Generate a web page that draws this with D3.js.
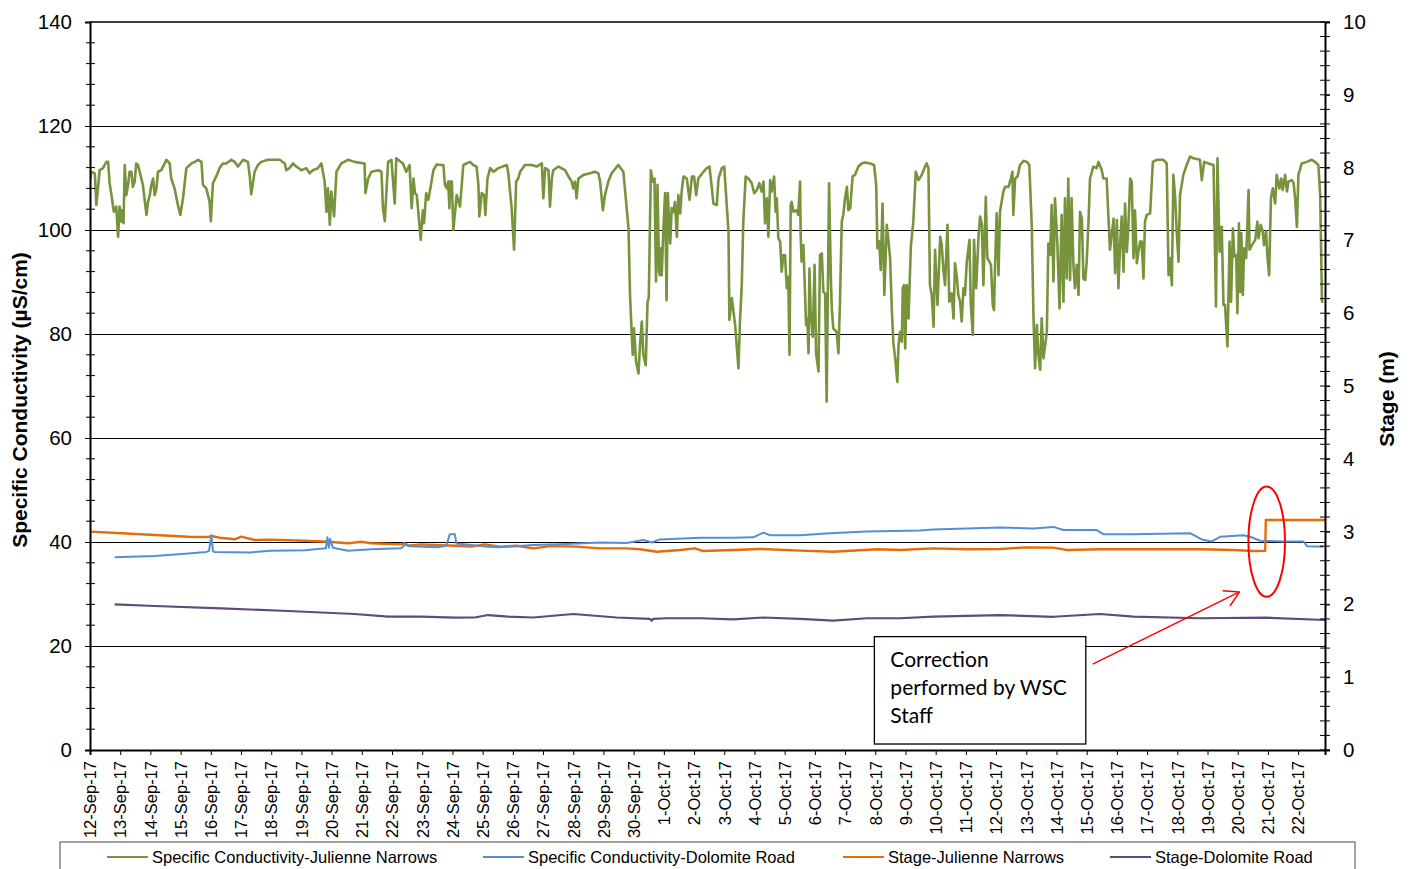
<!DOCTYPE html>
<html><head><meta charset="utf-8">
<script src="https://cdn.jsdelivr.net/npm/d3@7"></script>
<style>
html,body{margin:0;padding:0;background:#fff;}
svg{display:block;font-family:"Liberation Sans",Arial,sans-serif;}
</style></head>
<body>
<svg id="chart" width="1413" height="869"></svg>
<script>
// ---------- DATA (day offset from 12-Sep-2017 00:00, value) ----------
const startDate = new Date(2017, 8, 12);
const endDayOffset = 40.89;
const seriesNames = ["Specific Conductivity-Julienne Narrows","Specific Conductivity-Dolomite Road","Stage-Julienne Narrows","Stage-Dolomite Road"];
const leftTicks = [0,20,40,60,80,100,120,140];
const rightTicks = [0,1,2,3,4,5,6,7,8,9,10];

const condJulienne = [[0.01,109.9],[0.04,111.2],[0.16,110.9],[0.21,104.8],[0.32,111.5],[0.43,111.9],[0.54,113.1],[0.60,113.1],[0.65,109.0],[0.71,106.7],[0.79,103.5],[0.87,104.5],[0.93,98.7],[0.98,104.5],[1.04,101.6],[1.07,103.8],[1.11,101.3],[1.15,112.5],[1.20,106.7],[1.26,108.7],[1.31,111.2],[1.37,111.2],[1.42,108.3],[1.48,109.3],[1.53,112.8],[1.59,112.5],[1.70,109.9],[1.75,108.7],[1.87,102.9],[1.92,105.4],[1.98,106.7],[2.03,108.7],[2.09,109.9],[2.14,106.7],[2.20,108.0],[2.25,111.2],[2.36,111.5],[2.53,113.5],[2.64,112.8],[2.69,109.9],[2.80,108.0],[2.91,104.8],[2.99,102.9],[3.08,106.1],[3.19,111.9],[3.25,112.2],[3.36,112.8],[3.47,113.1],[3.58,113.5],[3.69,113.1],[3.74,108.7],[3.85,108.0],[3.96,105.4],[4.00,101.7],[4.07,109.0],[4.18,110.3],[4.29,111.9],[4.40,112.8],[4.51,112.8],[4.68,113.5],[4.79,113.1],[4.90,112.2],[5.07,113.5],[5.23,113.1],[5.29,110.3],[5.34,106.9],[5.45,111.2],[5.56,112.5],[5.67,113.1],[5.89,113.5],[6.11,113.5],[6.28,113.5],[6.45,112.8],[6.50,111.5],[6.61,111.9],[6.72,112.8],[6.83,112.2],[7.00,111.5],[7.16,111.9],[7.27,110.9],[7.38,111.5],[7.55,111.9],[7.66,112.8],[7.77,109.3],[7.83,103.5],[7.88,108.0],[7.94,101.0],[7.99,107.4],[8.08,102.6],[8.16,111.2],[8.32,112.8],[8.54,113.5],[8.76,113.1],[9.09,112.8],[9.12,107.1],[9.21,109.9],[9.32,111.2],[9.54,111.5],[9.65,111.2],[9.70,104.2],[9.76,101.7],[9.87,113.1],[9.98,113.5],[10.09,105.1],[10.14,113.8],[10.20,113.5],[10.36,112.8],[10.47,111.2],[10.58,112.5],
[10.65,104.2],[10.71,109.9],[10.76,107.1],[10.82,106.7],[10.87,103.5],[10.95,98.1],[11.02,103.8],[11.06,101.3],[11.13,107.1],[11.20,105.8],[11.26,107.7],[11.37,111.5],[11.48,112.6],[11.64,112.5],[11.70,112.5],[11.75,108.7],[11.81,108.0],[11.86,109.3],[11.90,104.2],[11.92,109.3],[11.98,109.3],[12.03,100.0],[12.14,106.7],[12.25,104.5],[12.36,112.5],[12.47,112.8],[12.58,113.1],[12.69,112.5],[12.80,112.2],[12.86,108.7],[12.89,102.6],[12.97,107.1],[13.05,106.7],[13.09,102.9],[13.16,109.9],[13.25,111.9],[13.36,111.2],[13.52,111.9],[13.80,112.5],[13.85,110.9],[13.96,104.2],[14.04,96.2],[14.11,109.3],[14.18,109.9],[14.24,111.2],[14.40,112.5],[14.63,112.5],[14.79,112.2],[14.96,112.8],[15.01,106.1],[15.07,111.9],[15.18,111.5],[15.23,104.5],[15.29,109.9],[15.34,111.5],[15.51,112.2],[15.73,111.5],[15.84,110.3],[15.95,109.3],[16.00,108.0],[16.06,109.3],[16.11,106.1],[16.17,109.9],[16.34,110.6],[16.56,110.9],[16.72,111.2],[16.83,110.9],[16.89,109.3],[16.98,103.8],[17.05,106.7],[17.16,109.3],[17.27,110.9],[17.49,112.5],[17.66,111.2],[17.83,100.3],[17.88,87.5],[17.94,79.5],[17.97,76.0],[18.01,81.1],[18.08,74.7],[18.16,72.4],[18.21,77.9],[18.27,82.4],[18.32,76.0],[18.40,74.0],[18.46,86.2],[18.50,86.9],[18.57,111.5],[18.63,109.3],[18.69,109.9],[18.74,90.1],[18.79,108.7],[18.84,92.0],[18.87,91.3],[18.90,96.5],[18.93,91.3],[18.98,99.7],[19.04,107.1],[19.09,86.5],[19.13,107.1],[19.21,97.4],[19.26,104.2],[19.32,103.5],[19.37,105.4],[19.43,98.7],[19.48,106.7],[19.54,103.2],[19.59,107.4],[19.65,110.3],[19.76,109.9],[19.85,105.8],[19.93,110.3],[20.00,110.3],[20.07,106.7],[20.14,109.9],[20.31,111.2],[20.42,111.9],[20.51,112.2],[20.59,108.0],[20.64,105.1],[20.75,104.8],[20.81,109.9],[20.92,111.9],[21.00,112.2],[21.06,106.7],[21.14,99.7],[21.17,82.7],[21.25,86.9],[21.36,81.7],[21.47,73.4],[21.52,82.4],
[21.58,89.4],[21.63,101.6],[21.71,110.3],[21.80,109.9],[21.91,109.0],[21.99,107.1],[22.08,107.7],[22.16,109.0],[22.24,107.4],[22.30,109.3],[22.35,101.3],[22.41,106.1],[22.46,98.7],[22.52,109.6],[22.57,107.4],[22.65,110.3],[22.70,103.5],[22.74,106.1],[22.79,98.4],[22.85,97.8],[22.90,92.0],[22.96,95.2],[23.01,95.2],[23.07,88.8],[23.12,91.0],[23.16,76.0],[23.20,104.8],[23.23,105.4],[23.29,103.5],[23.40,103.8],[23.45,102.9],[23.51,109.3],[23.53,99.0],[23.56,93.9],[23.62,97.1],[23.71,81.7],[23.75,83.0],[23.79,76.3],[23.82,92.6],[23.86,84.3],[23.93,79.5],[23.99,93.3],[24.04,76.3],[24.12,72.8],[24.17,95.2],[24.23,95.5],[24.28,88.1],[24.34,87.8],[24.39,67.0],[24.47,109.0],[24.53,90.7],[24.56,84.9],[24.61,81.1],[24.72,80.4],[24.78,76.3],[24.83,85.9],[24.89,101.6],[24.94,102.9],[25.00,106.1],[25.06,108.3],[25.11,103.8],[25.17,104.2],[25.25,110.3],[25.33,110.6],[25.44,112.2],[25.55,112.8],[25.66,113.0],[25.83,112.8],[25.96,112.5],[26.03,108.7],[26.07,96.5],[26.13,97.8],[26.18,92.3],[26.24,105.1],[26.30,87.5],[26.38,101.0],[26.43,98.4],[26.49,94.6],[26.55,84.3],[26.60,78.2],[26.66,75.3],[26.73,70.8],[26.77,77.9],[26.82,80.4],[26.88,78.5],[26.91,88.8],[26.95,89.4],[26.99,77.2],[27.04,89.4],[27.10,83.0],[27.18,97.1],[27.26,101.6],[27.34,111.2],[27.43,109.6],[27.54,110.6],[27.65,112.2],[27.70,112.8],[27.76,111.9],[27.81,89.4],[27.87,87.5],[27.93,81.4],[27.98,96.2],[28.06,85.6],[28.15,98.7],[28.20,97.1],[28.26,92.0],[28.31,89.4],[28.39,101.0],[28.45,86.2],[28.53,87.8],[28.59,83.0],[28.64,93.6],[28.70,91.0],[28.75,87.5],[28.81,86.2],[28.86,82.4],[28.92,88.8],[28.97,87.5],[29.03,93.9],[29.12,98.1],[29.16,85.9],[29.23,79.8],[29.27,98.1],[29.34,88.8],[29.42,99.0],[29.47,102.6],[29.53,101.0],[29.58,89.4],[29.66,106.4],[29.71,94.6],[29.78,93.9],[29.83,93.3],[29.89,85.6],[29.93,84.6],[29.97,93.9],[30.02,103.2],[30.08,91.3],[30.13,103.5],[30.24,107.4],[30.30,108.3],[30.41,108.3],[30.49,109.9],[30.54,111.2],[30.57,102.9],[30.63,109.9],[30.71,110.3],[30.79,112.5],[30.91,113.3],[31.02,113.1],[31.10,112.5],[31.18,101.0],[31.24,83.0],[31.29,73.4],[31.35,81.7],[31.40,76.0],[31.46,73.1],[31.51,83.0],[31.57,75.3],[31.68,80.4],[31.73,97.4],[31.79,95.2],[31.84,104.8],[31.90,90.1],[31.95,106.1],
[32.03,97.1],[32.10,84.9],[32.17,102.9],[32.23,86.2],[32.28,106.1],[32.34,90.7],[32.39,109.9],[32.45,90.4],[32.50,106.1],[32.56,93.3],[32.61,88.8],[32.67,93.3],[32.73,87.5],[32.78,103.5],[32.84,102.2],[32.89,90.7],[32.95,90.4],[33.00,93.9],[33.06,101.6],[33.11,109.9],[33.22,112.2],[33.33,111.9],[33.39,113.1],[33.50,111.5],[33.55,109.9],[33.66,109.9],[33.77,96.2],[33.89,102.2],[33.94,91.7],[34.00,101.9],[34.05,88.8],[34.11,97.8],[34.16,102.6],[34.22,92.0],[34.27,105.1],[34.33,95.8],[34.38,100.6],[34.44,109.9],[34.49,109.3],[34.55,94.6],[34.60,103.8],[34.66,93.6],[34.71,95.8],[34.77,97.8],[34.82,97.8],[34.88,90.7],[34.93,101.6],[34.99,102.9],[35.10,103.2],[35.19,113.1],[35.32,113.5],[35.54,113.5],[35.65,112.8],[35.71,91.3],[35.76,94.6],[35.82,89.4],[35.87,110.6],[35.93,106.1],[35.98,99.7],[36.04,93.9],[36.09,106.7],[36.20,110.6],[36.31,112.5],[36.42,114.1],[36.53,113.8],[36.75,113.5],[36.81,109.6],[36.89,113.1],[37.03,112.8],[37.20,112.5],[37.28,85.3],[37.33,113.8],[37.40,95.8],[37.47,100.6],[37.53,85.6],[37.58,85.6],[37.66,77.6],[37.73,97.8],[37.78,86.2],[37.84,100.3],[37.89,94.9],[37.95,95.2],[37.99,84.0],[38.04,101.3],[38.08,88.1],[38.12,99.4],[38.17,87.5],[38.21,96.5],[38.28,94.6],[38.36,107.7],[38.39,96.2],[38.47,97.1],[38.58,98.1],[38.65,101.6],[38.69,98.4],[38.76,101.0],[38.83,99.7],[38.87,97.1],[38.94,99.7],[38.98,95.2],[39.04,91.3],[39.10,106.1],[39.16,108.0],[39.24,105.1],[39.29,110.6],[39.38,108.0],[39.44,109.9],[39.49,107.7],[39.57,110.6],[39.63,107.4],[39.68,109.3],[39.79,109.6],[39.85,109.0],[39.90,106.1],[39.96,100.6],[40.01,110.6],[40.12,112.8],[40.29,113.1],[40.45,113.5],[40.56,113.1],[40.67,112.5],[40.73,106.7],[40.79,86.2],[40.84,86.2]];

const condDolomite = [[0.82,37.06],[2.14,37.3],[3.25,37.8],[3.85,38.1],[3.94,38.3],[4.02,41.3],[4.07,38.3],[4.11,38.1],[5.30,38.0],[5.99,38.3],[7.11,38.4],[7.81,38.8],[7.86,40.9],[7.91,38.9],[7.95,40.6],[8.04,38.9],[8.54,38.3],[9.31,38.6],[10.30,38.8],[10.46,39.6],[10.59,39.2],[11.52,39.0],[11.80,39.3],[11.91,41.5],[12.08,41.5],[12.13,39.7],[13.18,39.1],[13.58,39.0],[14.68,39.4],[15.78,39.6],[16.89,39.9],[17.77,39.8],[18.32,40.4],[18.60,39.9],[18.87,40.5],[20.20,40.8],[21.30,40.8],[21.96,40.9],[22.29,41.8],[22.52,41.3],[23.51,41.3],[24.50,41.7],[25.72,42.0],[27.48,42.2],[27.92,42.4],[29.03,42.6],[30.13,42.8],[31.24,42.6],[31.90,42.9],[32.23,42.3],[33.33,42.3],[33.55,41.5],[34.55,41.5],[36.42,41.7],[36.81,40.5],[37.14,40.1],[37.42,41.0],[38.19,41.3],[38.41,41.0],[38.74,40.25],[39.51,40.1],[40.18,40.1],[40.29,39.2],[40.84,39.1]];

const stageJulienne = [[0.0,3.0],[1.04,2.977],[2.14,2.953],[3.25,2.93],[3.9,2.925],[4.02,2.94],[4.3,2.915],[4.79,2.894],[5.01,2.93],[5.45,2.885],[6.00,2.89],[7.11,2.875],[7.88,2.861],[8.54,2.839],[8.98,2.861],[9.31,2.84],[10.31,2.825],[10.40,2.84],[10.53,2.806],[10.96,2.825],[12.08,2.806],[12.63,2.793],[13.07,2.825],[13.58,2.793],[14.13,2.806],[14.68,2.77],[15.23,2.80],[16.12,2.793],[16.89,2.77],[17.77,2.77],[18.21,2.757],[18.77,2.724],[19.54,2.747],[20.03,2.77],[20.31,2.733],[21.30,2.747],[22.19,2.761],[23.51,2.738],[24.61,2.724],[26.05,2.757],[26.82,2.747],[27.92,2.77],[29.03,2.757],[30.13,2.76],[31.02,2.784],[31.90,2.78],[32.34,2.747],[33.44,2.757],[35.10,2.757],[36.75,2.757],[37.86,2.747],[38.52,2.733],[38.91,2.735],[38.93,3.159],[40.07,3.159],[40.89,3.159]];

const stageDolomite = [[0.82,2.001],[2.14,1.978],[4.35,1.946],[6.56,1.909],[8.76,1.868],[9.87,1.831],[10.97,1.831],[12.08,1.817],[12.74,1.82],[13.18,1.854],[13.84,1.831],[14.68,1.82],[16.00,1.868],[17.44,1.82],[18.54,1.80],[18.60,1.775],[18.64,1.80],[19.10,1.81],[20.20,1.81],[21.30,1.795],[22.29,1.82],[23.51,1.80],[24.61,1.777],[25.72,1.81],[26.82,1.81],[27.92,1.831],[30.13,1.854],[31.90,1.83],[33.44,1.868],[34.55,1.831],[36.75,1.81],[38.96,1.817],[40.89,1.786]];

// annotation (day offset, conductivity units)
const noteText = ["Correction","performed by WSC","Staff"];
const noteBox = {d0:25.97, d1:32.97, v0:1.15, v1:21.8};
const noteEllipse = {d:38.96, v:40.06, rd:0.606, rv:10.6};
const noteArrow = {d0:33.2, v0:16.5, d1:38.06, v1:30.4};

// ---------- CHART ----------
const colors = ["#77933C","#558ED5","#E46C0A","#604A7B"];
const svg = d3.select("#chart");
const L = 90, R = 1325, T = 22, B = 750;
const toDate = d => new Date(startDate.getTime() + d*864e5);

const x = d3.scaleTime().domain([startDate, toDate(endDayOffset)]).range([L, R]);
const yL = d3.scaleLinear().domain([0,140]).range([B, T]);
const yR = d3.scaleLinear().domain([0,10]).range([B, T]);

svg.append("rect").attr("width",1413).attr("height",869).attr("fill","#fff");

// gridlines
svg.append("g").selectAll("line").data(leftTicks.filter(v=>v>0 && v<140)).join("line")
  .attr("x1",L).attr("x2",R).attr("y1",d=>yL(d)).attr("y2",d=>yL(d))
  .attr("stroke","#000").attr("stroke-width",1).attr("shape-rendering","crispEdges");

// clip
svg.append("clipPath").attr("id","clip").append("rect").attr("x",L).attr("y",T).attr("width",R-L).attr("height",B-T);

const lineL = d3.line().x(d=>x(toDate(d[0]))).y(d=>yL(d[1]));
const lineR = d3.line().x(d=>x(toDate(d[0]))).y(d=>yR(d[1]));
const gl = svg.append("g").attr("clip-path","url(#clip)");
gl.append("path").datum(stageDolomite).attr("d",lineR).attr("fill","none").attr("stroke",colors[3]).attr("stroke-width",2.2).attr("stroke-linejoin","round");
gl.append("path").datum(stageJulienne).attr("d",lineR).attr("fill","none").attr("stroke",colors[2]).attr("stroke-width",2.4).attr("stroke-linejoin","round");
gl.append("path").datum(condDolomite).attr("d",lineL).attr("fill","none").attr("stroke",colors[1]).attr("stroke-width",2).attr("stroke-linejoin","round");
gl.append("path").datum(condJulienne).attr("d",lineL).attr("fill","none").attr("stroke",colors[0]).attr("stroke-width",2.6).attr("stroke-linejoin","round");

// plot frame
svg.append("line").attr("x1",L).attr("x2",R).attr("y1",T).attr("y2",T).attr("stroke","#000").attr("stroke-width",1.5);

// left axis
const axL = svg.append("g").attr("transform",`translate(${L},0)`)
  .call(d3.axisLeft(yL).tickValues(leftTicks).tickSize(5).tickPadding(13).tickFormat(d3.format("d")));
axL.select(".domain").attr("stroke-width",2);
axL.selectAll("text").attr("font-size",20.5).attr("font-family","Liberation Sans, Arial, sans-serif").attr("fill","#000");
svg.append("g").selectAll("line").data(d3.range(0,141,4).filter(v=>v%20!==0)).join("line")
  .attr("x1",L-4).attr("x2",L+5).attr("y1",d=>yL(d)).attr("y2",d=>yL(d)).attr("stroke","#000").attr("stroke-width",1);

// right axis
const axR = svg.append("g").attr("transform",`translate(${R},0)`)
  .call(d3.axisRight(yR).tickValues(rightTicks).tickSize(5).tickPadding(13).tickFormat(d3.format("d")));
axR.select(".domain").attr("stroke-width",2);
axR.selectAll("text").attr("font-size",20.5).attr("font-family","Liberation Sans, Arial, sans-serif").attr("fill","#000");
svg.append("g").selectAll("line").data(d3.range(0,10.01,0.2)).join("line")
  .attr("x1",R-5).attr("x2",R+5).attr("y1",d=>yR(d)).attr("y2",d=>yR(d)).attr("stroke","#000").attr("stroke-width",1);

// x axis
const days = d3.timeDay.range(startDate, toDate(endDayOffset));
const axX = svg.append("g").attr("transform",`translate(0,${B})`)
  .call(d3.axisBottom(x).tickValues(days).tickSize(5).tickFormat(d3.timeFormat("%-d-%b-%y")));
axX.select(".domain").attr("stroke-width",2);
axX.selectAll("text").attr("font-size",16.5).attr("font-family","Liberation Sans, Arial, sans-serif").attr("fill","#000")
  .attr("text-anchor","end").attr("transform","translate(0,11) rotate(-90)").attr("x",0).attr("y",0).attr("dy","0.35em");

// axis titles
svg.append("text").attr("transform","translate(27,400) rotate(-90)").attr("text-anchor","middle")
  .attr("font-size",21).attr("font-weight","bold").text("Specific Conductivity (µS/cm)");
svg.append("text").attr("transform","translate(1394,399) rotate(-90)").attr("text-anchor","middle")
  .attr("font-size",21).attr("font-weight","bold").text("Stage (m)");

// annotation
const bx0 = x(toDate(noteBox.d0)), bx1 = x(toDate(noteBox.d1)), by0 = yL(noteBox.v1), by1 = yL(noteBox.v0);
svg.append("rect").attr("x",bx0).attr("y",by0).attr("width",bx1-bx0).attr("height",by1-by0)
  .attr("fill","#fff").attr("stroke","#000").attr("stroke-width",1.3);
svg.append("text").attr("font-family","Lato, 'Open Sans', sans-serif").attr("font-size",21)
  .selectAll("tspan").data(noteText).join("tspan")
  .attr("x",bx0+16).attr("y",(d,i)=>by0+30+i*28).text(d=>d);

const ecx = x(toDate(noteEllipse.d)), ecy = yL(noteEllipse.v);
const erx = x(toDate(noteEllipse.d+noteEllipse.rd)) - ecx, ery = yL(0) - yL(noteEllipse.rv);
svg.append("ellipse").attr("cx",ecx).attr("cy",ecy).attr("rx",erx).attr("ry",ery)
  .attr("fill","none").attr("stroke","#FF0000").attr("stroke-width",2);

const ax0 = x(toDate(noteArrow.d0)), ay0 = yL(noteArrow.v0), ax1 = x(toDate(noteArrow.d1)), ay1 = yL(noteArrow.v1);
svg.append("line").attr("x1",ax0).attr("y1",ay0).attr("x2",ax1).attr("y2",ay1).attr("stroke","#FF0000").attr("stroke-width",1.5);
const ang = Math.atan2(ay0-ay1, ax0-ax1), hl = 17, ha = 0.52;
[ang-ha, ang+ha].forEach(a=>{
  svg.append("line").attr("x1",ax1).attr("y1",ay1).attr("x2",ax1+hl*Math.cos(a)).attr("y2",ay1+hl*Math.sin(a))
    .attr("stroke","#FF0000").attr("stroke-width",1.5);
});

// legend
svg.append("rect").attr("x",60).attr("y",842).attr("width",1295).attr("height",40)
  .attr("fill","#fff").attr("stroke","#444").attr("stroke-width",1);
const legX = [107,483,843,1110];
const lg = svg.append("g").selectAll("g").data(seriesNames).join("g").attr("transform",(d,i)=>`translate(${legX[i]},857)`);
lg.append("line").attr("x1",0).attr("x2",41).attr("stroke",(d,i)=>colors[i]).attr("stroke-width",2);
lg.append("text").attr("x",45).attr("dy","0.35em").attr("font-size",16.5).attr("fill","#000").text(d=>d);
</script>
</body></html>
